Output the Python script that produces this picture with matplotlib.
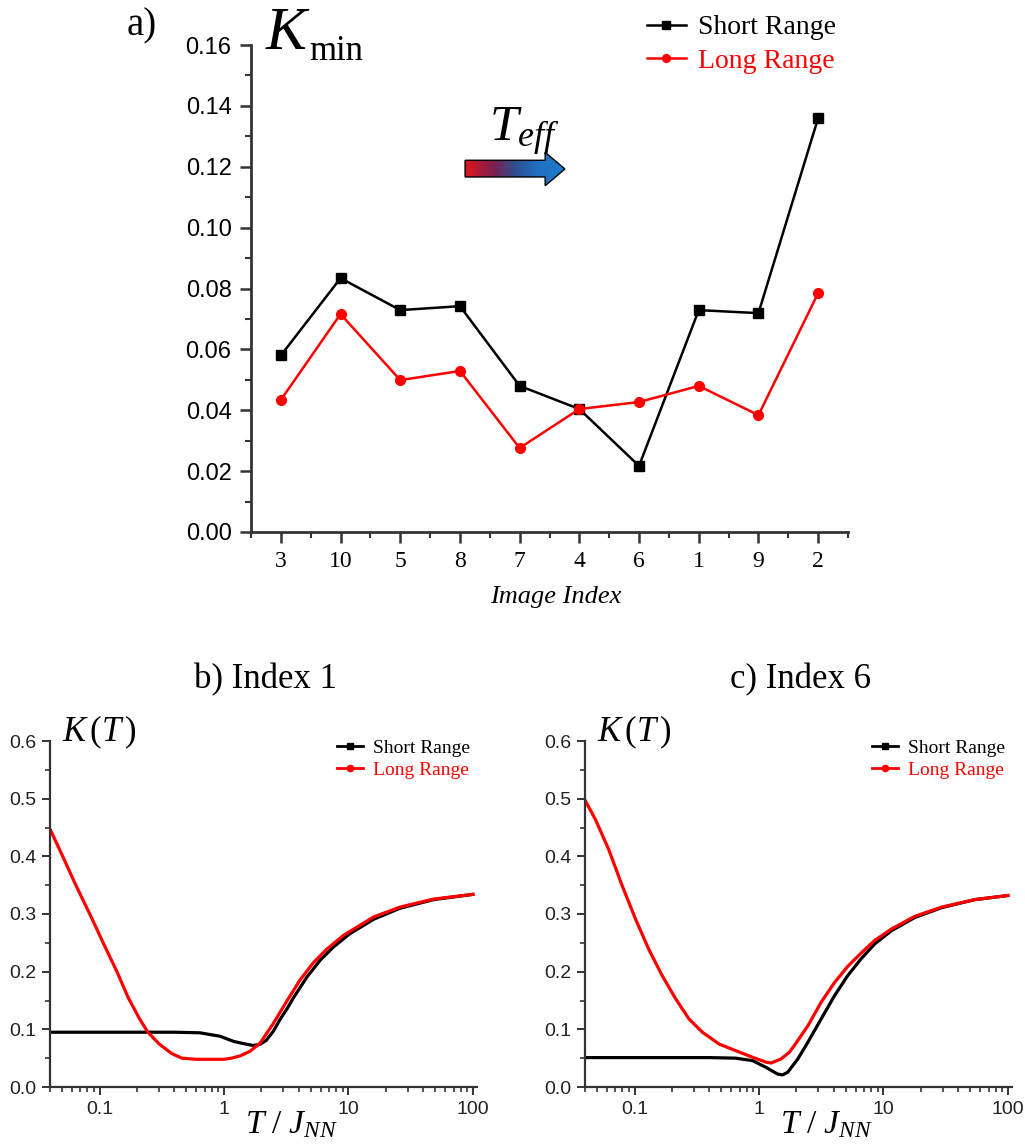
import numpy as np
import matplotlib
matplotlib.use('Agg')
import matplotlib.pyplot as plt
from matplotlib.patches import Polygon
from matplotlib.lines import Line2D
from matplotlib.colors import LinearSegmentedColormap
from matplotlib.ticker import MultipleLocator, FixedLocator, LogLocator, NullFormatter

# ---------------- data ----------------
image_index = ['3', '10', '5', '8', '7', '4', '6', '1', '9', '2']
kmin_short = [0.058, 0.0834, 0.0729, 0.0742, 0.048, 0.0404, 0.0217, 0.0729, 0.0719, 0.136]
kmin_long = [0.0434, 0.0716, 0.0499, 0.0529, 0.0276, 0.0404, 0.0427, 0.048, 0.0384, 0.0785]

# Index 1
T_b_short = [0.04, 0.07, 0.1, 0.2, 0.4, 0.64, 0.93, 1.2, 1.45, 1.72, 1.95, 2.19, 2.5, 2.8,
             3.2, 3.6, 4.65, 5.94, 7.6, 10.3, 16, 26, 48.6, 100]
K_b_short = [0.095, 0.095, 0.095, 0.095, 0.095, 0.094, 0.088, 0.079, 0.075, 0.072, 0.074,
             0.081, 0.097, 0.116, 0.135, 0.154, 0.191, 0.220, 0.243, 0.266, 0.291, 0.310,
             0.325, 0.334]
T_b_long = [0.0405, 0.0506, 0.0645, 0.0835, 0.107, 0.138, 0.17, 0.21, 0.245, 0.3, 0.38,
            0.46, 0.6, 0.8, 1.0, 1.15, 1.35, 1.62, 1.95, 2.49, 3.18, 4.07, 5.2, 6.7, 9.13,
            16, 26, 48.6, 100]
K_b_long = [0.445, 0.40, 0.35, 0.30, 0.25, 0.20, 0.155, 0.118, 0.095, 0.075, 0.058, 0.050,
            0.048, 0.048, 0.048, 0.050, 0.054, 0.062, 0.076, 0.110, 0.148, 0.185, 0.215,
            0.239, 0.263, 0.295, 0.312, 0.326, 0.334]

# Index 6
T_c_short = [0.04, 0.07, 0.1, 0.2, 0.4, 0.65, 0.89, 1.14, 1.41, 1.55, 1.7, 2.05, 2.47, 3.16,
             4.04, 5.16, 6.6, 8.5, 11.6, 17.9, 29.4, 54.5, 100]
K_c_short = [0.051, 0.051, 0.051, 0.051, 0.051, 0.050, 0.0457, 0.034, 0.0225, 0.021, 0.0255,
             0.0485, 0.0775, 0.118, 0.158, 0.193, 0.222, 0.248, 0.271, 0.294, 0.311, 0.325,
             0.332]
T_c_long = [0.0403, 0.0485, 0.062, 0.0796, 0.102, 0.130, 0.167, 0.214, 0.274, 0.351, 0.478,
            0.65, 0.89, 1.14, 1.25, 1.5, 1.75, 1.92, 2.47, 3.16, 4.04, 5.16, 6.6, 8.5, 11.6,
            17.9, 29.4, 54.5, 100]
K_c_long = [0.496, 0.464, 0.412, 0.349, 0.291, 0.239, 0.193, 0.153, 0.118, 0.095, 0.0745,
            0.063, 0.0515, 0.043, 0.0416, 0.0485, 0.060, 0.0716, 0.106, 0.147, 0.181, 0.209,
            0.232, 0.254, 0.274, 0.296, 0.312, 0.325, 0.332]

series_labels = ['Short Range', 'Long Range']
bc_ticks = [0.1, 1, 10, 100]
bc_ticklabels = ['0.1', '1', '10', '100']

# ---------------- style ----------------
W, H = 1025, 1148
plt.rcParams['font.family'] = ['Liberation Sans', 'DejaVu Sans']
plt.rcParams['mathtext.fontset'] = 'custom'
plt.rcParams['mathtext.rm'] = 'Liberation Serif'
plt.rcParams['mathtext.it'] = 'Liberation Serif:italic'
plt.rcParams['mathtext.bf'] = 'Liberation Serif:bold'
SERIF = 'Liberation Serif'
AXC = '#333333'
RED = '#ff0000'


def fx(px):
    return px / W


def fy(py):
    return 1 - py / H


fig = plt.figure(figsize=(W / 100, H / 100), dpi=100)


def style_axes(ax, lw=2.0):
    for s in ['top', 'right']:
        ax.spines[s].set_visible(False)
    for s in ['left', 'bottom']:
        ax.spines[s].set_color(AXC)
        ax.spines[s].set_linewidth(lw)
    ax.tick_params(which='major', direction='out', length=8, width=1.8, color=AXC)
    ax.tick_params(which='minor', direction='out', length=4.5, width=1.5, color=AXC)


# ---------------- panel a ----------------
axA = fig.add_axes([fx(251), fy(532), 597 / W, 487 / H])
xa = np.arange(1, len(image_index) + 1)
axA.plot(xa, kmin_short, '-s', color='black', lw=1.8, ms=6.5, label=series_labels[0])
axA.plot(xa, kmin_long, '-o', color=RED, lw=1.8, ms=7, label=series_labels[1])
axA.set_xlim(0.5, len(image_index) + 0.5)
axA.set_ylim(0, 0.16)
style_axes(axA)
axA.set_xticks(xa)
axA.set_xticklabels(image_index, family=SERIF, fontsize=17)
axA.xaxis.set_minor_locator(FixedLocator(np.arange(0.5, len(image_index) + 1, 1.0)))
axA.yaxis.set_minor_locator(MultipleLocator(0.01))
axA.set_yticks(np.arange(0, 0.161, 0.02))
axA.set_yticklabels(['%.2f' % v for v in np.arange(0, 0.161, 0.02)], fontsize=17)
axA.tick_params(axis='y', pad=6)
axA.tick_params(axis='x', pad=6)

legA = axA.legend(loc='upper left', bbox_to_anchor=(fx(647), fy(15)),
                  bbox_transform=fig.transFigure, frameon=False,
                  prop={'family': SERIF, 'size': 20}, handlelength=1.4,
                  handletextpad=0.45, labelspacing=0.28, borderpad=0, borderaxespad=0,
                  markerscale=0.8)
for t, l in zip(legA.get_texts(), legA.get_lines()):
    t.set_color(l.get_color())

fig.text(fx(127), fy(35), 'a)', family=SERIF, fontsize=28, va='baseline', ha='left')
fig.text(fx(266), fy(49), 'K', family=SERIF, style='italic', fontsize=44,
         va='baseline', ha='left')
fig.text(fx(309), fy(60), 'min', family=SERIF, fontsize=25, va='baseline', ha='left')
fig.text(fx(489), fy(141), r'$T_{eff}$', fontsize=37, va='baseline', ha='left')
fig.text(fx(556), fy(597), 'Image Index', family=SERIF, style='italic', fontsize=19,
         ha='center', va='center')

# gradient arrow (decoration)
axArr = fig.add_axes([fx(463), fy(188), 104 / W, 38 / H])
axArr.set_xlim(0, 1)
axArr.set_ylim(0, 1)
axArr.axis('off')
pts = [(0.02, 0.29), (0.79, 0.29), (0.79, 0.06), (0.98, 0.5), (0.79, 0.94),
       (0.79, 0.73), (0.02, 0.73)]
poly = Polygon(pts, closed=True, facecolor='none', edgecolor='black', lw=1.0,
               transform=axArr.transData)
cmap = LinearSegmentedColormap.from_list(
    'teff', [(0, '#e8141c'), (0.3, '#7a2050'), (0.5, '#2f4f8f'), (0.72, '#1f6fc0'),
             (1, '#1f7ccc')])
grad = np.linspace(0, 1, 256).reshape(1, -1)
im = axArr.imshow(grad, extent=[0, 1, 0, 1], aspect='auto', cmap=cmap, origin='lower')
im.set_clip_path(poly)
axArr.add_patch(poly)


# ---------------- panels b, c ----------------
def panel(left, T_s, K_s, T_l, K_l, leg_left, kt_left, title, title_x, xl_x):
    ax = fig.add_axes([fx(left), fy(1087), 427 / W, 346 / H])
    ax.plot(T_s, K_s, '-', color='black', lw=2.3)
    ax.plot(T_l, K_l, '-', color=RED, lw=2.3)
    ax.set_xscale('log')
    ax.set_xlim(0.04, 108)
    ax.set_ylim(0, 0.6)
    style_axes(ax, lw=1.6)
    ax.tick_params(which='major', length=6, width=1.4)
    ax.tick_params(which='minor', length=3.5, width=1.2)
    ax.xaxis.set_major_locator(FixedLocator(bc_ticks))
    ax.set_xticklabels(bc_ticklabels, fontsize=14)
    ax.xaxis.set_minor_locator(LogLocator(base=10, subs=np.arange(2, 10)))
    ax.xaxis.set_minor_formatter(NullFormatter())
    ax.set_yticks(np.arange(0, 0.61, 0.1))
    ax.set_yticklabels(['%.1f' % v for v in np.arange(0, 0.61, 0.1)], fontsize=14)
    ax.yaxis.set_minor_locator(MultipleLocator(0.05))
    ax.tick_params(axis='both', pad=4, labelcolor='#222222')
    handles = [Line2D([], [], color='black', lw=2, marker='s', ms=4),
               Line2D([], [], color=RED, lw=2, marker='o', ms=4.5)]
    leg = ax.legend(handles, series_labels, loc='upper left',
                    bbox_to_anchor=(fx(leg_left), fy(739)),
                    bbox_transform=fig.transFigure, frameon=False,
                    prop={'family': SERIF, 'size': 14}, handlelength=1.35,
                    handletextpad=0.5, labelspacing=0.26, borderpad=0, borderaxespad=0)
    for t, l in zip(leg.get_texts(), leg.get_lines()):
        t.set_color(l.get_color())
    fig.text(fx(kt_left), fy(741), r'$K\,(T\,)$', fontsize=25, va='baseline',
             ha='left')
    fig.text(fx(title_x), fy(680), title, family=SERIF, fontsize=25, ha='center',
             va='center')
    fig.text(fx(xl_x), fy(1133), r'$T\ /\ J_{NN}$', fontsize=24, ha='center',
             va='baseline')
    return ax


panel(50, T_b_short, K_b_short, T_b_long, K_b_long, 337, 62, 'b) Index 1', 266, 291)
panel(585, T_c_short, K_c_short, T_c_long, K_c_long, 872, 597, 'c) Index 6', 801, 826)

fig.savefig('out.png', dpi=100)
